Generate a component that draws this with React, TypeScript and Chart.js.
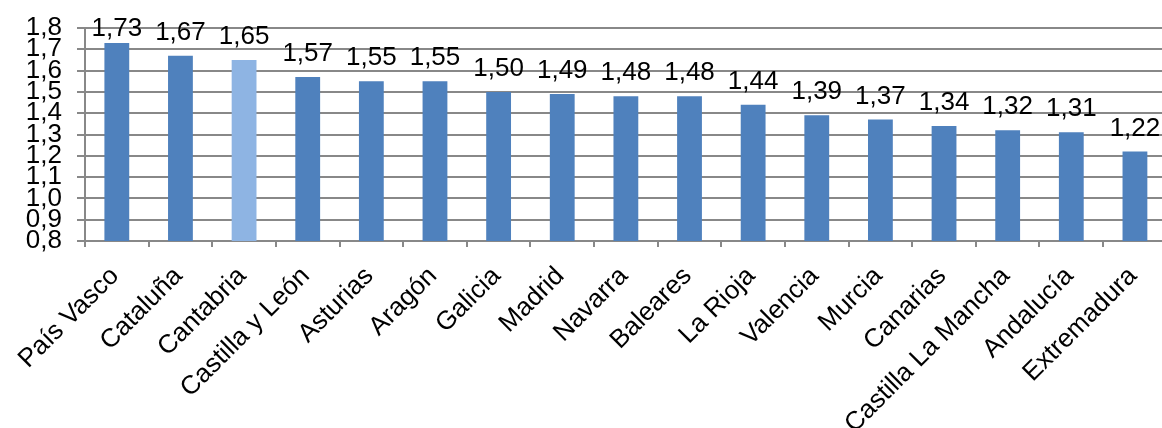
import React, { useEffect, useRef } from "react";
import { Chart, registerables } from "chart.js";

Chart.register(...registerables);

const categories = [
  "País Vasco", "Cataluña", "Cantabria", "Castilla y León", "Asturias", "Aragón",
  "Galicia", "Madrid", "Navarra", "Baleares", "La Rioja", "Valencia", "Murcia",
  "Canarias", "Castilla La Mancha", "Andalucía", "Extremadura",
];
const values = [1.73, 1.67, 1.65, 1.57, 1.55, 1.55, 1.5, 1.49, 1.48, 1.48, 1.44, 1.39, 1.37, 1.34, 1.32, 1.31, 1.22];
const highlighted = ["Cantabria"];
const yMin = 0.8;
const yMax = 1.8;
const yStep = 0.1;

const FONT = "'Liberation Sans', Arial, sans-serif";
const fmt = (v: number, d: number) => v.toFixed(d).replace(".", ",");

const labelPlugin = {
  id: "barLabels",
  afterDatasetsDraw(chart: any) {
    const ctx = chart.ctx;
    const meta = chart.getDatasetMeta(0);
    ctx.save();
    ctx.font = `26px ${FONT}`;
    ctx.fillStyle = "#000000";
    ctx.textAlign = "center";
    ctx.textBaseline = "alphabetic";
    meta.data.forEach((bar: any, i: number) => {
      let y = bar.y - 16;
      if (y < 36) y = 36;
      ctx.fillText(fmt(values[i], 2), bar.x, y);
    });
    ctx.restore();
  },
};

export default function App() {
  const ref = useRef<HTMLCanvasElement>(null);
  useEffect(() => {
    if (!ref.current) return;
    const chart = new Chart(ref.current, {
      type: "bar",
      data: {
        labels: categories,
        datasets: [
          {
            data: values,
            backgroundColor: categories.map((c) => (highlighted.includes(c) ? "#8EB4E3" : "#4F81BD")),
            barPercentage: 0.39,
            categoryPercentage: 1,
          },
        ],
      },
      options: {
        responsive: false,
        animation: false,
        layout: { padding: { top: 14, right: 0, left: 0, bottom: 0 } },
        plugins: { legend: { display: false }, tooltip: { enabled: false } },
        scales: {
          x: {
            grid: { display: true, drawOnChartArea: false, drawTicks: true, tickLength: 6, color: "#888888", lineWidth: 2, offset: true },
            border: { display: true, color: "#888888", width: 2 },
            ticks: {
              autoSkip: false,
              maxRotation: 45,
              minRotation: 45,
              color: "#000000",
              font: { family: FONT, size: 26 },
              padding: 14,
              labelOffset: -2,
            },
            afterFit(scale: any) {
              scale.height = 187;
            },
          },
          y: {
            min: yMin,
            max: yMax,
            grid: { color: "#888888", lineWidth: 2, tickLength: 8 },
            border: { display: true, color: "#888888", width: 2 },
            ticks: {
              autoSkip: false,
              stepSize: yStep,
              color: "#000000",
              font: { family: FONT, size: 26, lineHeight: 1 },
              padding: 15,
              callback: (v: any) => fmt(Number(v), 1),
            },
            afterFit(scale: any) {
              scale.width = 85;
            },
          },
        },
      },
      plugins: [labelPlugin],
    });
    return () => chart.destroy();
  }, []);
  return (
    <div style={{ position: "fixed", left: 0, top: 0, width: 1162, height: 428, overflow: "hidden", background: "#fff" }}>
      <canvas ref={ref} width={1171} height={428} style={{ width: 1171, height: 428, display: "block" }} />
    </div>
  );
}
